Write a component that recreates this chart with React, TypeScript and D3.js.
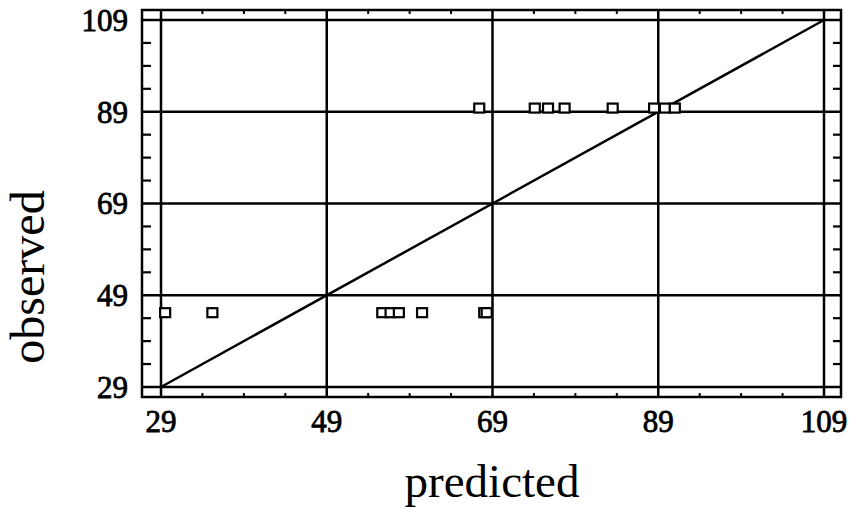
import React from "react";
import * as d3 from "d3";

const predictedHigh = [67.4, 74.1, 75.7, 77.7, 83.5, 88.5, 89.8, 91.0];
const observedHigh = [89.8, 89.8, 89.8, 89.8, 89.8, 89.8, 89.8, 89.8];
const predictedLow = [29.5, 35.2, 55.7, 56.7, 57.7, 60.5, 68.0, 68.3];
const observedLow = [45.2, 45.2, 45.2, 45.2, 45.2, 45.2, 45.2, 45.2];

const majorTicks = [29, 49, 69, 89, 109];
const minorTicks = d3.range(29, 110, 5).filter((t) => !majorTicks.includes(t));
const domain: [number, number] = [29, 109];

const width = 850;
const height = 512;
const frame = { left: 142, top: 10, right: 841, bottom: 397 };

const App = () => {
  const x = d3.scaleLinear().domain(domain).range([161, 824]);
  const y = d3.scaleLinear().domain(domain).range([387, 20]);

  const points = [
    ...predictedHigh.map((p, i) => ({ p, o: observedHigh[i] })),
    ...predictedLow.map((p, i) => ({ p, o: observedLow[i] })),
  ];

  const diag = d3
    .line<number>()
    .x((d) => x(d))
    .y((d) => y(d))(domain);

  const font = "'Liberation Serif', 'Times New Roman', serif";

  return (
    <svg
      width={width}
      height={height}
      style={{ position: "absolute", left: 0, top: 0, background: "#fff" }}
    >
      <rect
        x={frame.left}
        y={frame.top}
        width={frame.right - frame.left}
        height={frame.bottom - frame.top}
        fill="none"
        stroke="#000"
        strokeWidth={2.5}
      />
      {/* grid */}
      {majorTicks.map((t) => (
        <g key={"g" + t}>
          <line x1={x(t)} x2={x(t)} y1={frame.top} y2={frame.bottom} stroke="#000" strokeWidth={2.5} />
          <line x1={frame.left} x2={frame.right} y1={y(t)} y2={y(t)} stroke="#000" strokeWidth={2.5} />
        </g>
      ))}
      {/* minor ticks */}
      {minorTicks.map((t) => (
        <g key={"m" + t}>
          <line x1={frame.left} x2={frame.left + 9} y1={y(t)} y2={y(t)} stroke="#000" strokeWidth={2.2} />
          <line x1={frame.right} x2={frame.right - 8} y1={y(t)} y2={y(t)} stroke="#000" strokeWidth={2.2} />
          <line x1={x(t)} x2={x(t)} y1={frame.top} y2={frame.top + 4} stroke="#000" strokeWidth={2} />
          <line x1={x(t)} x2={x(t)} y1={frame.bottom} y2={frame.bottom - 4} stroke="#000" strokeWidth={2} />
        </g>
      ))}
      <path d={diag || ""} stroke="#000" strokeWidth={2.5} fill="none" />
      {points.map((d, i) => (
        <rect
          key={i}
          x={x(d.p) - 5}
          y={y(d.o) - 4.5}
          width={10}
          height={9}
          fill="#fff"
          stroke="#000"
          strokeWidth={2.2}
        />
      ))}
      {/* tick labels */}
      {majorTicks.map((t) => (
        <text
          key={"yl" + t}
          x={128}
          y={y(t)}
          dy="0.35em"
          textAnchor="end"
          fontFamily={font}
          fontSize={31}
          stroke="#000"
          strokeWidth={0.8}
        >
          {t}
        </text>
      ))}
      {majorTicks.map((t) => (
        <text
          key={"xl" + t}
          x={x(t)}
          y={432}
          textAnchor="middle"
          fontFamily={font}
          fontSize={31}
          stroke="#000"
          strokeWidth={0.8}
        >
          {t}
        </text>
      ))}
      <text x={492} y={497} textAnchor="middle" fontFamily={font} fontSize={47}>
        predicted
      </text>
      <text
        transform={`translate(44, 277) rotate(-90)`}
        textAnchor="middle"
        fontFamily={font}
        fontSize={48}
      >
        observed
      </text>
    </svg>
  );
};

export default App;
